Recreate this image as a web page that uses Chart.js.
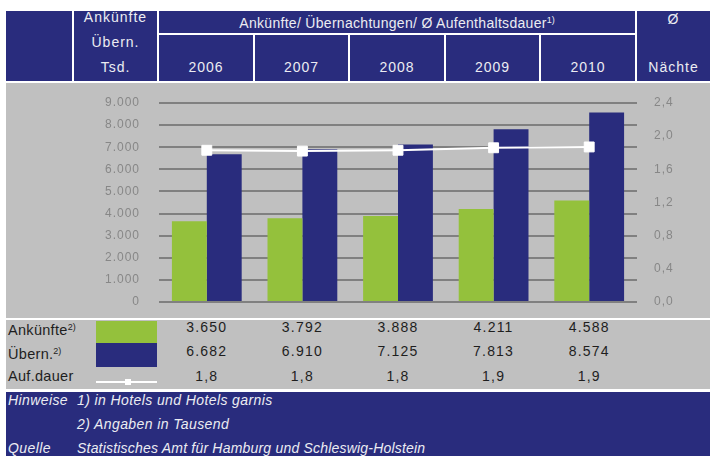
<!DOCTYPE html>
<html lang="de">
<head>
<meta charset="utf-8">
<title>Ankünfte / Übernachtungen / Aufenthaltsdauer</title>
<script src="https://cdn.jsdelivr.net/npm/chart.js@4.4.1/dist/chart.umd.min.js"></script>
<style>
  html, body { margin: 0; padding: 0; background: #fff; }
  body { width: 710px; height: 456px; position: relative; overflow: hidden;
         font-family: "Liberation Sans", Arial, sans-serif; }
  .box { position: absolute; }
  .navy { background: #292c7d; }
  .gray { background: #c0c0c0; }
  .hd { position: absolute; color: #ececf2; font-size: 14px; letter-spacing: 1px;
        text-align: center; line-height: 16px; white-space: nowrap; }
  .val { position: absolute; width: 80px; margin-left: -40px; text-align: center;
         font-size: 14px; letter-spacing: 1.2px; color: #1e1e1e; line-height: 16px; }
  .lbl { position: absolute; left: 8px; font-size: 14.5px; letter-spacing: 0.3px; color: #1e1e1e; line-height: 16px; }
  .ft { position: absolute; color: #ececf2; font-size: 14px; font-style: italic;
        letter-spacing: 0.4px; line-height: 16px; white-space: nowrap; }
  sup { font-size: 9px; vertical-align: 5px; letter-spacing: 0; }
  canvas { display: block; }
</style>
</head>
<body>
<!-- header cells -->
<div class="box navy" style="left:6px;top:11px;width:66px;height:70px"></div>
<div class="box navy" style="left:74px;top:11px;width:83px;height:70px"></div>
<div class="box navy" style="left:159px;top:11px;width:476px;height:22px"></div>
<div id="yearCells"></div>
<div class="box navy" style="left:637px;top:11px;width:73px;height:70px"></div>

<div class="hd" style="left:74px;width:83px;top:9px">Ankünfte</div>
<div class="hd" style="left:74px;width:83px;top:34px">Übern.</div>
<div class="hd" style="left:74px;width:83px;top:59px">Tsd.</div>
<div class="hd" style="left:159px;width:476px;top:12px;letter-spacing:0.3px">Ankünfte/ Übernachtungen/ Ø Aufenthaltsdauer<sup>1)</sup></div>
<div class="hd" style="left:637px;width:73px;top:11px">Ø</div>
<div class="hd" style="left:637px;width:73px;top:59px">Nächte</div>

<!-- chart area -->
<div class="box gray" style="left:6px;top:83px;width:704px;height:235px">
  <canvas id="chart" width="704" height="235"></canvas>
</div>

<!-- data table -->
<div class="box gray" style="left:6px;top:320px;width:704px;height:69px"></div>
<div class="lbl" style="top:319px">Ankünfte<sup>2)</sup></div>
<div class="lbl" style="top:343px">Übern.<sup>2)</sup></div>
<div class="lbl" style="top:368px">Auf.dauer</div>
<div class="box" style="left:96px;top:321px;width:61px;height:22px;background:#94c13c"></div>
<div class="box" style="left:96px;top:343px;width:61px;height:24px;background:#292c7d"></div>
<div class="box" style="left:96px;top:381px;width:61px;height:2px;background:#fff"></div>
<div class="box" style="left:125px;top:379px;width:6px;height:6px;background:#fff"></div>
<div id="tableVals"></div>

<!-- footer -->
<div class="box navy" style="left:6px;top:392px;width:704px;height:64px"></div>
<div class="ft" style="left:8px;top:392px">Hinweise</div>
<div class="ft" style="left:77px;top:392px">1) in Hotels und Hotels garnis</div>
<div class="ft" style="left:77px;top:416px">2) Angaben in Tausend</div>
<div class="ft" style="left:8px;top:440px">Quelle</div>
<div class="ft" style="left:77px;top:440px;letter-spacing:0.2px">Statistisches Amt für Hamburg und Schleswig-Holstein</div>

<script>
// Jahre (Kategorien)
const years = ["2006", "2007", "2008", "2009", "2010"];
// Ankünfte in Tsd.
const arrivals = [3650, 3792, 3888, 4211, 4588];
// Übernachtungen in Tsd.
const overnights = [6682, 6910, 7125, 7813, 8574];
// durchschnittliche Aufenthaltsdauer in Nächten
const stayLength = [1.83, 1.82, 1.83, 1.86, 1.87];
// Achsen
const leftTicks = { min: 0, max: 9000, step: 1000 };
const rightTicks = { min: 0, max: 2.4, step: 0.4 };

const navy = "#292c7d";
const green = "#94c13c";

// German number formats
const fmtInt = (v) => Math.round(v).toString().replace(/\B(?=(\d{3})+(?!\d))/g, ".");
const fmtDec = (v) => v.toFixed(1).replace(".", ",");

// year header cells, aligned with the chart categories
const plotLeft = 159, plotRight = 637;
const catW = (plotRight - plotLeft) / years.length;
let cellsHtml = "";
years.forEach((y, i) => {
    const x0 = Math.round(plotLeft + i * catW);
    const x1 = Math.round(plotLeft + (i + 1) * catW) - 2;
    cellsHtml += `<div class="box navy" style="left:${x0}px;top:35px;width:${x1 - x0}px;height:46px"></div>`;
    cellsHtml += `<div class="hd" style="left:${x0}px;width:${x1 - x0}px;top:59px">${y}</div>`;
});
document.getElementById("yearCells").innerHTML = cellsHtml;

// table values below the chart
let valsHtml = "";
years.forEach((y, i) => {
    const cx = plotLeft + (i + 0.5) * catW;
    valsHtml += `<div class="val" style="left:${cx}px;top:319px">${fmtInt(arrivals[i])}</div>`;
    valsHtml += `<div class="val" style="left:${cx}px;top:343px">${fmtInt(overnights[i])}</div>`;
    valsHtml += `<div class="val" style="left:${cx}px;top:368px">${fmtDec(stayLength[i])}</div>`;
});
document.getElementById("tableVals").innerHTML = valsHtml;

// letter spacing for axis labels
const spacing = {
    id: "spacing",
    beforeDraw(chart) { chart.ctx.letterSpacing = "1px"; }
};

// fixed axis width, no extra vertical padding from tick labels
const fitAxis = (w) => (s) => {
    s.width = w;
    s.paddingTop = 0;
    s.paddingBottom = 0;
};

new Chart(document.getElementById("chart").getContext("2d"), {
    type: "bar",
    data: {
        labels: years,
        datasets: [
            {
                type: "line",
                label: "Auf.dauer",
                data: stayLength,
                yAxisID: "y1",
                borderColor: "#ffffff",
                borderWidth: 2,
                pointStyle: "rect",
                pointRadius: 7,
                pointBackgroundColor: "#ffffff",
                pointBorderColor: "#ffffff",
                pointBorderWidth: 1,
                tension: 0,
                order: 0,
            },
            {
                label: "Ankünfte",
                data: arrivals,
                backgroundColor: green,
                yAxisID: "y",
                order: 1,
            },
            {
                label: "Übern.",
                data: overnights,
                backgroundColor: navy,
                yAxisID: "y",
                order: 1,
            },
        ],
    },
    options: {
        responsive: false,
        animation: false,
        layout: { padding: { top: 20, bottom: 16, left: 0, right: 0 } },
        datasets: { bar: { categoryPercentage: 0.73, barPercentage: 1.0 } },
        plugins: {
            legend: { display: false },
            tooltip: { enabled: false },
        },
        scales: {
            x: { display: false, offset: true, grid: { display: false } },
            y: {
                position: "left",
                min: leftTicks.min,
                max: leftTicks.max,
                afterFit: fitAxis(153),
                border: { display: false },
                grid: { color: "#808080", lineWidth: 2, drawTicks: false },
                ticks: {
                    stepSize: leftTicks.step,
                    padding: 19,
                    color: "#878787",
                    font: { family: "'Liberation Sans', Arial, sans-serif", size: 12 },
                    callback: (v) => fmtInt(v),
                },
            },
            y1: {
                position: "right",
                min: rightTicks.min,
                max: rightTicks.max,
                afterFit: fitAxis(73),
                border: { display: false },
                grid: { display: false, drawTicks: false },
                ticks: {
                    stepSize: rightTicks.step,
                    padding: 17,
                    color: "#878787",
                    font: { family: "'Liberation Sans', Arial, sans-serif", size: 12 },
                    callback: (v) => fmtDec(v),
                },
            },
        },
    },
    plugins: [spacing],
});
</script>
</body>
</html>
